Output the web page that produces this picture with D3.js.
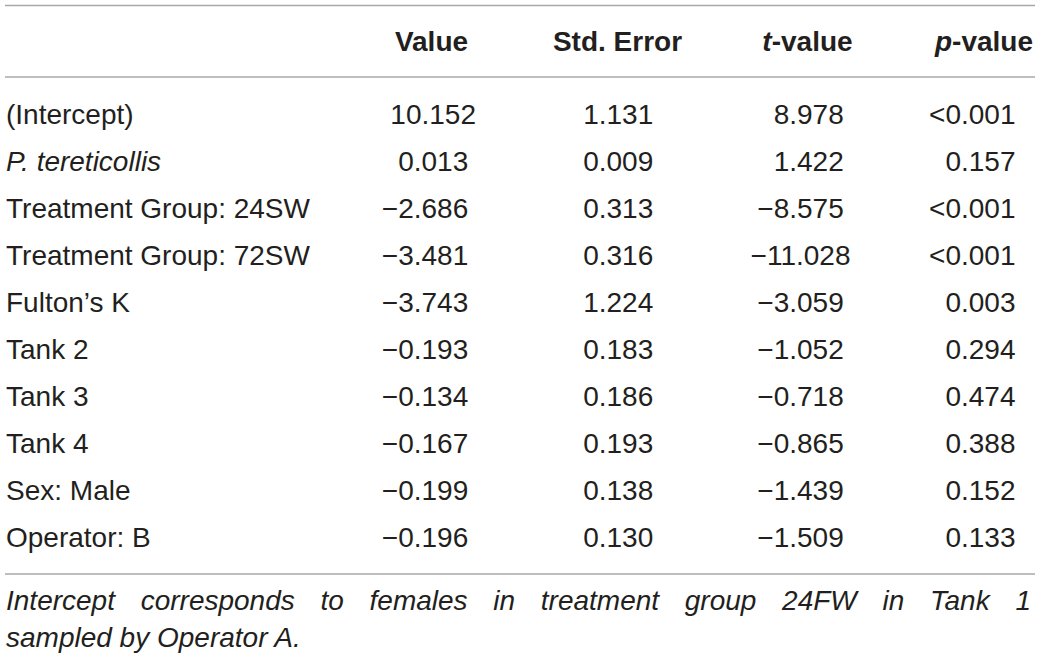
<!DOCTYPE html>
<html>
<head>
<meta charset="utf-8">
<script src="https://cdn.jsdelivr.net/npm/d3@7"></script>
<style>
  html, body { margin: 0; padding: 0; background: #fff; }
  svg text { font-family: "Liberation Sans", Arial, sans-serif; fill: #231f20; }
</style>
</head>
<body>
<svg id="tbl" width="1040" height="660"></svg>
<script>
// table contents
var rowLabels = ['(Intercept)', 'P. tereticollis', 'Treatment Group: 24SW', 'Treatment Group: 72SW',
    'Fulton\u2019s K', 'Tank 2', 'Tank 3', 'Tank 4', 'Sex: Male', 'Operator: B'];
var italicLabels = ['P. tereticollis'];
var estimates = [10.152, 0.013, -2.686, -3.481, -3.743, -0.193, -0.134, -0.167, -0.199, -0.196];
var stdErrors = [1.131, 0.009, 0.313, 0.316, 1.224, 0.183, 0.186, 0.193, 0.138, 0.130];
var tValues = [8.978, 1.422, -8.575, -11.028, -3.059, -1.052, -0.718, -0.865, -1.439, -1.509];
var pValues = ['<0.001', '0.157', '<0.001', '<0.001', '0.003', '0.294', '0.474', '0.388', '0.152', '0.133'];
var footnoteLines = ['Intercept corresponds to females in treatment group 24FW in Tank 1',
    'sampled by Operator A.'];

var svg = d3.select('#tbl');

var left = 5, right = 1035,
    fontSize = 28;

var fmt = d3.format('.3f');
function num(v) { return fmt(Math.abs(v)); }

// row baselines
var y = d3.scalePoint()
    .domain(rowLabels)
    .range([123.5, 547]);

// rules
var rules = [5.5, 77, 574];
svg.append('g')
    .selectAll('line')
    .data(rules)
    .enter()
    .append('line')
    .attr('x1', left)
    .attr('x2', right)
    .attr('y1', d => d)
    .attr('y2', d => d)
    .attr('stroke', '#a8a8a8')
    .attr('stroke-width', 1.6);

// header
var header = svg.append('g')
    .attr('font-weight', 'bold')
    .attr('font-size', fontSize);

header.append('text').attr('x', 431.5).attr('y', 51).attr('text-anchor', 'middle').text('Value');
header.append('text').attr('x', 617.5).attr('y', 51).attr('text-anchor', 'middle').text('Std. Error');
var th = header.append('text').attr('x', 807.5).attr('y', 51).attr('text-anchor', 'middle');
th.append('tspan').attr('font-style', 'italic').text('t');
th.append('tspan').text('-value');
var ph = header.append('text').attr('x', 1033).attr('y', 51).attr('text-anchor', 'end');
ph.append('tspan').attr('font-style', 'italic').text('p');
ph.append('tspan').text('-value');

// body
var body = svg.append('g').attr('font-size', fontSize);

body.selectAll('text.label')
    .data(rowLabels)
    .enter()
    .append('text')
    .attr('class', 'label')
    .attr('x', 6)
    .attr('y', d => y(d))
    .attr('font-style', d => italicLabels.includes(d) ? 'italic' : 'normal')
    .text(d => d);

// numbers centred with a phantom minus in front of positives
function numColumn(vals, cx) {
    var t = body.append('g').selectAll('text')
        .data(vals)
        .enter()
        .append('text')
        .attr('x', cx)
        .attr('y', (d, i) => y(rowLabels[i]))
        .attr('text-anchor', 'middle');
    t.append('tspan')
        .attr('fill-opacity', d => d < 0 ? 1 : 0)
        .text('\u2212');
    t.append('tspan').text(d => num(d));
}
numColumn(estimates, 425);
numColumn(stdErrors, 610);
numColumn(tValues, 800.5);

body.append('g').selectAll('text')
    .data(pValues)
    .enter()
    .append('text')
    .attr('x', 1015.5)
    .attr('y', (d, i) => y(rowLabels[i]))
    .attr('text-anchor', 'end')
    .text(d => d);

// footnote, first line justified
var foot = svg.append('g')
    .attr('font-size', 28)
    .attr('font-style', 'italic');
var footX0 = 6, footX1 = 1031;

footnoteLines.forEach(function (ln, li) {
    var by = 610 + li * 37;
    var words = ln.split(' ');
    var last = li === footnoteLines.length - 1;
    if (last) {
        foot.append('text').attr('x', footX0).attr('y', by).text(ln);
        return;
    }
    var widths = words.map(function (wd) {
        var t = foot.append('text').text(wd);
        var l = t.node().getComputedTextLength();
        t.remove();
        return l;
    });
    var gap = (footX1 - footX0 - d3.sum(widths)) / (words.length - 1);
    var x = footX0;
    words.forEach(function (wd, i) {
        foot.append('text').attr('x', x).attr('y', by).text(wd);
        x += widths[i] + gap;
    });
});
</script>
</body>
</html>
